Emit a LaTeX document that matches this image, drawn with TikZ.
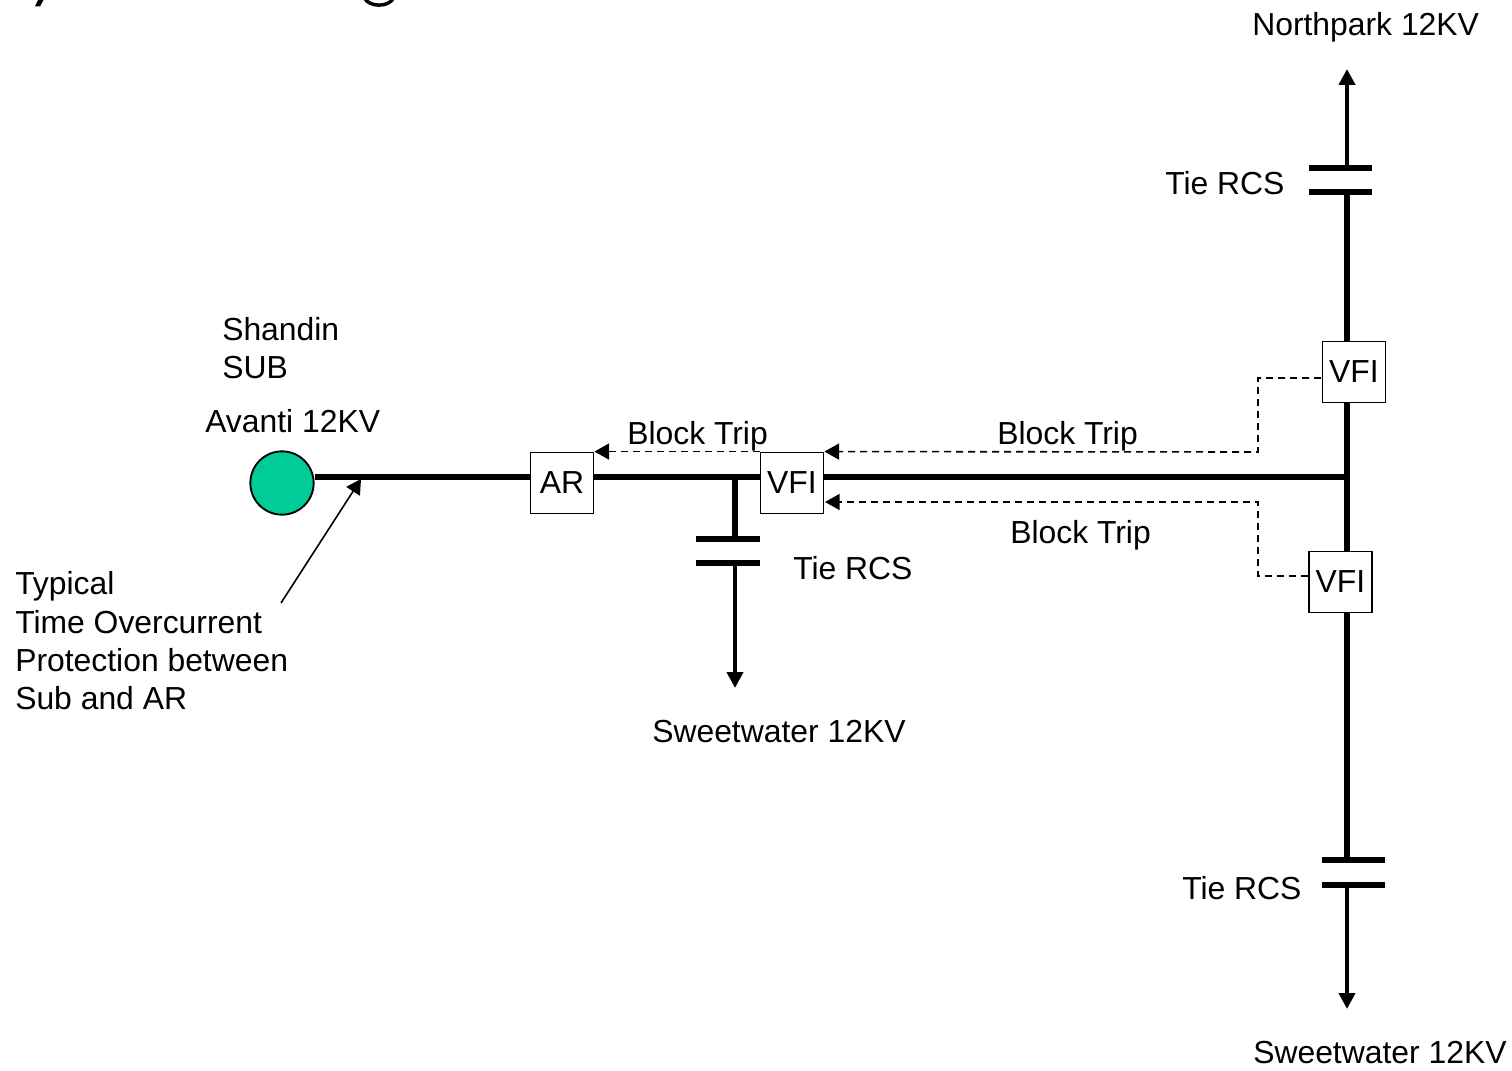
\documentclass[tikz,border=0pt]{standalone}
\usepackage{fontspec}
\setmainfont{Liberation Sans}
\usetikzlibrary{arrows.meta, positioning}
\definecolor{subgreen}{HTML}{00CC99}

\begin{document}
\begin{tikzpicture}[x=0.75pt, y=-0.75pt,
    label/.style={anchor=base west, inner sep=0pt, font=\fontsize{23.9}{28.7}\selectfont},
    device/.style={draw, line width=1.4pt, fill=white, rectangle, minimum width=47.25pt, minimum height=45.75pt, inner sep=0pt, font=\fontsize{23.9}{28.7}\selectfont},
    plate/.style={fill=black, rectangle, minimum width=47.5pt, minimum height=4.6pt, inner sep=0pt},
    bus/.style={line width=4.3pt},
    feeder/.style={line width=3.4pt, -{Triangle[length=12pt, width=12pt]}},
    signal/.style={dashed, dash pattern=on 5.2pt off 3.8pt, line width=1.2pt, -{Triangle[length=11pt, width=12pt]}}]
    \useasboundingbox (0,0) rectangle (1512,1070);

    \fill (35,6.5) -- (40,6.5) -- (43.5,0) -- (38,0) -- cycle;
    \draw[line width=2.6pt] (364.5,-2) .. controls (369,7.5) and (389,7.5) .. (393.5,-2);

    \node[draw, line width=1.4pt, fill=subgreen, circle, minimum size=47.5pt, inner sep=0pt] (source) at (282,483) {};
    \node[device] (ar) at (562,483) {AR};
    \node[device] (vfiMid) at (792,483) {VFI};
    \node[device] (vfiTop) at (1354,372) {VFI};
    \node[device] (vfiLow) at (1340.5,582) {VFI};

    \node[plate] (capMidA) at (728,539) {};
    \node[plate] (capMidB) at (728,563) {};
    \node[plate] (capTopA) at (1340.5,168) {};
    \node[plate] (capTopB) at (1340.5,192) {};
    \node[plate] (capLowA) at (1353.5,860) {};
    \node[plate] (capLowB) at (1353.5,885) {};

    \coordinate (junction) at (1347,477);
    \coordinate (tap) at (735,477);
    \coordinate (tipNorth) at (1347,69);
    \coordinate (tipSouth) at (1347,1009);
    \coordinate (tipSweet) at (735,688);
    \coordinate (noteTail) at (281,603);
    \coordinate (noteTip) at (361,479);
    \coordinate (outTop) at (1321,378);
    \coordinate (outLow) at (1308,576);
    \coordinate (bendTop) at (1258,452);
    \coordinate (bendLow) at (1258,502);
    \coordinate (blockLow) at (825,502);

    \draw[bus] (source.east |- junction) -- (ar.west |- junction);
    \draw[bus] (ar.east |- junction) -- (vfiMid.west |- junction);
    \draw[bus] (vfiMid.east |- junction) -- (junction);
    \draw[bus] (tap) -- (tap |- capMidA.north);
    \draw[bus] (junction |- capTopB.south) -- (junction |- vfiTop.north);
    \draw[bus] (junction |- vfiTop.south) -- (junction |- vfiLow.north);
    \draw[bus] (junction |- vfiLow.south) -- (junction |- capLowA.north);

    \draw[feeder] (tap |- capMidB.south) -- (tipSweet);
    \draw[feeder] (junction |- capTopA.north) -- (tipNorth);
    \draw[feeder] (junction |- capLowB.south) -- (tipSouth);
    \draw[line width=1.2pt, -{Triangle[length=11pt, width=12pt]}] (noteTail) -- (noteTip);

    \draw[signal] (vfiMid.north west) -- (ar.north east);
    \draw[signal] (outTop) -| (bendTop) -- (vfiMid.north east);
    \draw[signal] (outLow) -| (bendLow) -- (blockLow);

    \node[label] (northpark) at (1252,36) {Northpark 12KV};
    \node[label] (tieTop) at (1165,195) {Tie RCS};
    \node[label, anchor=west, align=left] (shandin) at (222,348) {Shandin\\SUB};
    \node[label] (avanti) at (205,432) {Avanti 12KV};
    \node[label] (blockAr) at (627,444) {Block Trip};
    \node[label] (blockTop) at (997,444) {Block Trip};
    \node[label] (blockBot) at (1010,543) {Block Trip};
    \node[label] (tieMid) at (793,579) {Tie RCS};
    \node[label, anchor=west, align=left] (note) at (15,641) {Typical\\Time Overcurrent\\Protection between\\Sub and AR};
    \node[label] (sweetMid) at (652,742) {Sweetwater 12KV};
    \node[label] (tieLow) at (1182,899) {Tie RCS};
    \node[label] (sweetLow) at (1253,1063) {Sweetwater 12KV};
\end{tikzpicture}
\end{document}
